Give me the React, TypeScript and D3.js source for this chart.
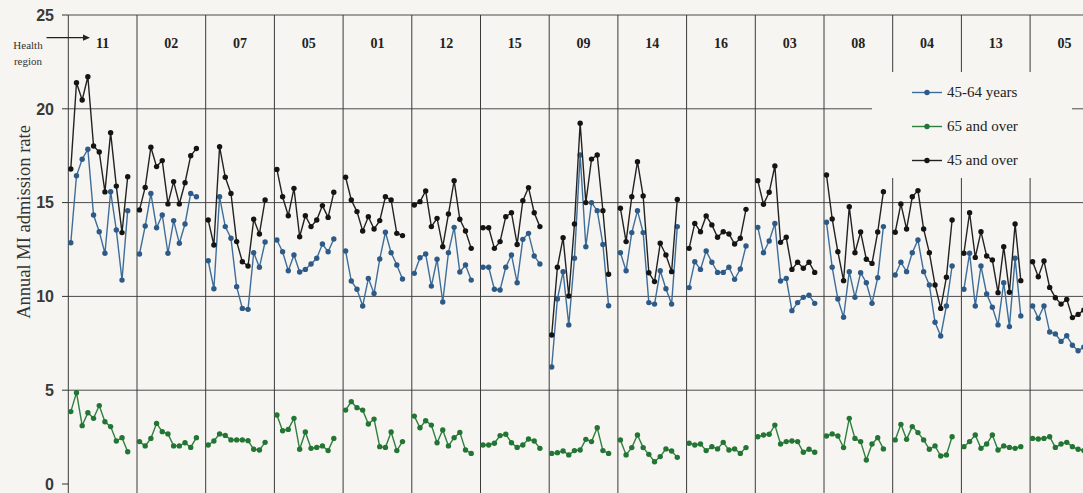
import React from "react";
import * as d3 from "d3";

// Health regions, in the order they are laid out across the chart
const regions = ["11", "02", "07", "05", "01", "12", "15", "09", "14", "16", "03", "08", "04", "13", "05"];

// Annual MI admission rate, 11 yearly values per region
const rate45to64: number[][] = [
  [12.86, 16.43, 17.31, 17.84, 14.34, 13.45, 12.3, 15.58, 13.54, 10.87, 14.57],
  [12.26, 13.75, 15.49, 13.66, 14.34, 12.3, 14.04, 12.83, 13.86, 15.49, 15.31],
  [11.9, 10.41, 15.31, 13.72, 13.1, 10.52, 9.36, 9.31, 12.33, 11.55, 12.9],
  [13.01, 12.38, 11.37, 12.21, 11.3, 11.44, 11.73, 12.03, 12.79, 12.38, 13.06],
  [12.42, 10.82, 10.38, 9.49, 10.96, 10.16, 11.99, 13.42, 12.33, 11.67, 10.93],
  [11.23, 12.06, 12.26, 10.55, 11.98, 9.7, 12.33, 13.68, 11.3, 11.67, 10.87],
  [11.55, 11.55, 10.38, 10.34, 11.55, 12.21, 10.73, 13.04, 13.36, 12.15, 11.73],
  [6.24, 9.86, 11.32, 8.48, 12.03, 17.54, 12.65, 15.0, 14.57, 12.77, 9.5],
  [12.33, 11.37, 13.4, 14.57, 13.4, 9.67, 9.59, 11.37, 10.41, 9.59, 13.72],
  [10.47, 11.85, 11.44, 12.42, 11.82, 11.28, 11.28, 11.55, 10.91, 11.46, 12.69],
  [13.68, 12.33, 12.95, 13.89, 10.82, 10.96, 9.24, 9.67, 9.95, 10.06, 9.63],
  [13.95, 11.55, 9.86, 8.89, 11.32, 9.95, 11.26, 10.73, 9.63, 11.0, 13.72],
  [11.14, 11.82, 11.32, 12.33, 13.01, 11.32, 10.61, 8.62, 7.89, 9.49, 11.62],
  [10.38, 12.3, 9.49, 11.62, 10.13, 9.42, 8.48, 10.73, 8.39, 12.03, 8.96],
  [9.49, 8.83, 9.49, 8.1, 8.0, 7.6, 7.9, 7.4, 7.1, 7.3, 7.5],
];

const rate65plus: number[][] = [
  [3.86, 4.87, 3.11, 3.8, 3.5, 4.18, 3.32, 3.06, 2.29, 2.47, 1.72],
  [2.26, 2.03, 2.43, 3.23, 2.79, 2.67, 2.03, 2.03, 2.2, 1.95, 2.47],
  [2.08, 2.29, 2.67, 2.59, 2.35, 2.35, 2.35, 2.31, 1.85, 1.81, 2.22],
  [3.68, 2.84, 2.91, 3.5, 1.85, 2.77, 1.9, 1.95, 2.03, 1.78, 2.43],
  [3.94, 4.39, 4.07, 3.94, 3.2, 3.46, 1.99, 1.95, 2.77, 1.78, 2.26],
  [3.62, 3.0, 3.37, 3.14, 2.2, 2.88, 2.03, 2.47, 2.75, 1.81, 1.63],
  [2.08, 2.08, 2.17, 2.58, 2.65, 2.2, 1.95, 2.08, 2.4, 2.29, 1.9],
  [1.63, 1.67, 1.76, 1.55, 1.78, 1.81, 2.38, 2.26, 3.0, 1.78, 1.63],
  [2.35, 1.55, 1.94, 2.61, 1.94, 1.58, 1.19, 1.46, 1.87, 1.76, 1.42],
  [2.17, 2.08, 2.13, 1.78, 1.99, 1.87, 2.22, 1.81, 1.87, 1.63, 1.94],
  [2.52, 2.61, 2.65, 3.14, 2.13, 2.26, 2.29, 2.26, 1.69, 1.85, 1.69],
  [2.56, 2.67, 2.56, 1.94, 3.5, 2.43, 2.26, 1.28, 2.13, 2.47, 1.87],
  [2.35, 3.18, 2.38, 3.06, 2.74, 2.35, 1.85, 2.03, 1.49, 1.55, 2.52],
  [1.99, 2.26, 2.61, 1.9, 2.13, 2.61, 1.81, 2.03, 1.95, 1.9, 1.99],
  [2.43, 2.4, 2.43, 2.52, 1.95, 2.13, 2.22, 1.99, 1.85, 1.78, 1.75],
];

const rate45plus: number[][] = [
  [16.79, 21.39, 20.47, 21.71, 18.02, 17.7, 15.57, 18.73, 15.88, 13.4, 16.38],
  [14.61, 15.81, 17.95, 16.92, 17.24, 14.93, 16.12, 14.93, 16.06, 17.5, 17.88],
  [14.07, 12.74, 17.98, 16.35, 15.49, 12.92, 11.85, 11.62, 14.11, 13.33, 15.14],
  [16.77, 15.31, 14.3, 15.76, 13.18, 14.3, 13.72, 14.07, 14.84, 14.21, 15.55],
  [16.35, 15.14, 14.52, 13.49, 14.25, 13.59, 14.04, 15.31, 15.14, 13.36, 13.24],
  [14.87, 15.05, 15.62, 13.72, 14.16, 12.65, 14.39, 16.17, 14.11, 13.49, 12.56],
  [13.66, 13.66, 12.56, 12.92, 14.25, 14.46, 12.77, 15.1, 15.8, 14.46, 13.72],
  [7.94, 11.55, 13.13, 10.02, 13.86, 19.23, 15.0, 17.32, 17.54, 14.57, 11.18],
  [14.7, 12.92, 15.31, 17.18, 15.35, 11.26, 10.79, 12.83, 12.21, 11.32, 15.17],
  [12.56, 13.89, 13.45, 14.29, 13.81, 13.15, 13.45, 13.33, 12.79, 13.1, 14.64],
  [16.17, 14.91, 15.55, 16.95, 12.88, 13.15, 11.44, 11.82, 11.5, 11.82, 11.28],
  [16.47, 14.13, 12.38, 10.84, 14.78, 12.33, 13.43, 11.98, 11.76, 13.43, 15.58],
  [13.42, 14.93, 13.59, 15.31, 15.64, 13.59, 12.33, 10.61, 9.36, 11.02, 14.07],
  [12.3, 14.46, 12.08, 13.45, 12.15, 11.94, 10.2, 12.65, 10.22, 13.86, 10.84],
  [11.85, 11.05, 11.89, 10.48, 9.93, 9.59, 9.84, 8.87, 9.04, 9.27, 9.3],
];

const yTicks = [0, 5, 10, 15, 20, 25];
const gridValues = [5, 10, 15, 20, 25];

const seriesList = [
  { label: "45-64 years", data: rate45to64, line: "#3f6d9a", dot: "#2d5a86" },
  { label: "65 and over", data: rate65plus, line: "#2f7f3e", dot: "#237534" },
  { label: "45 and over", data: rate45plus, line: "#222222", dot: "#141414" },
];

const W = 1083;
const H = 493;
const BG = "#f6f5f1";
const SERIF = "'Liberation Serif', 'DejaVu Serif', serif";
const SANS = "'Liberation Sans', Arial, sans-serif";

export default function App() {
  const plotLeft = 68.3;
  const panelW = 68.7;
  const x = d3
    .scaleBand<number>()
    .domain(d3.range(regions.length))
    .range([plotLeft, plotLeft + panelW * regions.length])
    .padding(0);
  const nYears = rate45to64[0].length;
  const xi = d3.scaleLinear().domain([0, nYears - 1]).range([2.5, 59.4]);
  const y = d3.scaleLinear().domain([0, 25]).range([484, 15]);

  const lineGen = (r: number) =>
    d3
      .line<number>()
      .x((_, i) => (x(r) as number) + xi(i))
      .y((v) => y(v));

  const legendBox = { x: 872, y: 72, w: 200, h: 106 };
  const legendRows = [92.5, 126.5, 160.5];

  return (
    <svg
      width={W}
      height={H}
      style={{ position: "absolute", left: 0, top: 0, background: BG }}
    >
      <rect x={0} y={0} width={W} height={H} fill={BG} />

      {/* horizontal grid */}
      {gridValues.map((v) => (
        <line
          key={`g${v}`}
          x1={plotLeft}
          x2={W}
          y1={y(v)}
          y2={y(v)}
          stroke="#4a4a4a"
          strokeWidth={1}
        />
      ))}

      {/* panel dividers */}
      {regions.map((_, r) => (
        <line
          key={`d${r}`}
          x1={x(r) as number}
          x2={x(r) as number}
          y1={y(25)}
          y2={H}
          stroke="#3a3a3a"
          strokeWidth={1}
        />
      ))}

      {/* y axis ticks and labels */}
      {yTicks.map((t) => (
        <g key={`t${t}`}>
          <line x1={62} x2={plotLeft} y1={y(t)} y2={y(t)} stroke="#333" strokeWidth={1} />
          <text
            x={54}
            y={y(t)}
            dy="0.36em"
            textAnchor="end"
            fontFamily={SANS}
            fontWeight="bold"
            fontSize={16}
            fill="#3a3a3a"
          >
            {t}
          </text>
        </g>
      ))}

      <text
        transform="translate(24,222) rotate(-90)"
        textAnchor="middle"
        fontFamily={SERIF}
        fontSize={18.5}
        fill="#333"
        dy="0.35em"
      >
        Annual MI admission rate
      </text>

      {/* region header */}
      {regions.map((reg, r) => (
        <text
          key={`h${r}`}
          x={(x(r) as number) + panelW / 2}
          y={43}
          dy="0.35em"
          textAnchor="middle"
          fontFamily={SERIF}
          fontWeight="bold"
          fontSize={14}
          fill="#222"
        >
          {reg}
        </text>
      ))}
      <text x={28} y={49} textAnchor="middle" fontFamily={SERIF} fontSize={11} fill="#333">
        Health
      </text>
      <text x={28} y={65} textAnchor="middle" fontFamily={SERIF} fontSize={11} fill="#333">
        region
      </text>
      <line x1={46.5} x2={84} y1={37.7} y2={37.7} stroke="#222" strokeWidth={1.3} />
      <path d="M 90 37.7 L 83 34.6 L 83 40.8 Z" fill="#222" />

      {/* series */}
      {seriesList.map((s) => (
        <g key={s.label}>
          {s.data.map((vals, r) => (
            <g key={r}>
              <path
                d={lineGen(r)(vals) as string}
                fill="none"
                stroke={s.line}
                strokeWidth={1.4}
              />
              {vals.map((v, i) => (
                <circle
                  key={i}
                  cx={(x(r) as number) + xi(i)}
                  cy={y(v)}
                  r={2.7}
                  fill={s.dot}
                />
              ))}
            </g>
          ))}
        </g>
      ))}

      {/* legend */}
      <rect x={legendBox.x} y={legendBox.y} width={legendBox.w} height={legendBox.h} fill={BG} />
      {seriesList.map((s, k) => (
        <g key={`l${k}`}>
          <line
            x1={912}
            x2={942}
            y1={legendRows[k]}
            y2={legendRows[k]}
            stroke={s.line}
            strokeWidth={1.4}
          />
          <circle cx={927} cy={legendRows[k]} r={2.7} fill={s.dot} />
          <text
            x={947}
            y={legendRows[k]}
            dy="0.33em"
            fontFamily={SERIF}
            fontSize={15}
            fill="#222"
          >
            {s.label}
          </text>
        </g>
      ))}
    </svg>
  );
}
